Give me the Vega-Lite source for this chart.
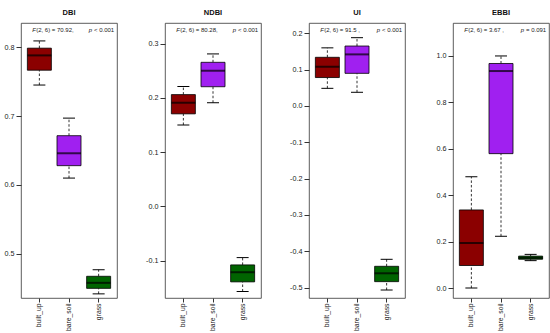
{
  "$schema": "https://vega.github.io/schema/vega-lite/v6.json",
  "background": "white",
  "padding": {"left": 3, "top": 8, "right": 2, "bottom": 1},
  "bounds": "flush",
  "spacing": 48,
  "datasets": {
    "vals": [
      {"index": "DBI", "cls": "built_up", "value": 0.745},
      {"index": "DBI", "cls": "built_up", "value": 0.788},
      {"index": "DBI", "cls": "built_up", "value": 0.809},
      {"index": "DBI", "cls": "bare_soil", "value": 0.610},
      {"index": "DBI", "cls": "bare_soil", "value": 0.646},
      {"index": "DBI", "cls": "bare_soil", "value": 0.697},
      {"index": "DBI", "cls": "grass", "value": 0.442},
      {"index": "DBI", "cls": "grass", "value": 0.458},
      {"index": "DBI", "cls": "grass", "value": 0.477},
      {"index": "NDBI", "cls": "built_up", "value": 0.150},
      {"index": "NDBI", "cls": "built_up", "value": 0.191},
      {"index": "NDBI", "cls": "built_up", "value": 0.221},
      {"index": "NDBI", "cls": "bare_soil", "value": 0.191},
      {"index": "NDBI", "cls": "bare_soil", "value": 0.250},
      {"index": "NDBI", "cls": "bare_soil", "value": 0.281},
      {"index": "NDBI", "cls": "grass", "value": -0.157},
      {"index": "NDBI", "cls": "grass", "value": -0.1215},
      {"index": "NDBI", "cls": "grass", "value": -0.0945},
      {"index": "UI", "cls": "built_up", "value": 0.0486},
      {"index": "UI", "cls": "built_up", "value": 0.108},
      {"index": "UI", "cls": "built_up", "value": 0.160},
      {"index": "UI", "cls": "bare_soil", "value": 0.0377},
      {"index": "UI", "cls": "bare_soil", "value": 0.142},
      {"index": "UI", "cls": "bare_soil", "value": 0.188},
      {"index": "UI", "cls": "grass", "value": -0.5065},
      {"index": "UI", "cls": "grass", "value": -0.4605},
      {"index": "UI", "cls": "grass", "value": -0.422},
      {"index": "EBBI", "cls": "built_up", "value": 0.0},
      {"index": "EBBI", "cls": "built_up", "value": 0.194},
      {"index": "EBBI", "cls": "built_up", "value": 0.479},
      {"index": "EBBI", "cls": "bare_soil", "value": 0.223},
      {"index": "EBBI", "cls": "bare_soil", "value": 0.935},
      {"index": "EBBI", "cls": "bare_soil", "value": 1.0},
      {"index": "EBBI", "cls": "grass", "value": 0.118},
      {"index": "EBBI", "cls": "grass", "value": 0.130},
      {"index": "EBBI", "cls": "grass", "value": 0.145}
    ],
    "notes": [
      {"index": "DBI", "fpart": "(2, 6) = 70.92,", "ppart": "< 0.001"},
      {"index": "NDBI", "fpart": "(2, 6) = 80.28,", "ppart": "< 0.001"},
      {"index": "UI", "fpart": "(2, 6) = 91.5 ,", "ppart": "< 0.001"},
      {"index": "EBBI", "fpart": "(2, 6) = 3.67 ,", "ppart": "= 0.091"}
    ]
  },
  "hconcat": [
    {
      "width": 96, "height": 275,
      "title": {"text": "DBI"},
      "layer": [
        {
          "data": {"name": "vals"},
          "transform": [{"filter": "datum.index === 'DBI'"}],
          "mark": {"type": "boxplot", "extent": "min-max", "size": 24,
            "box": {"stroke": "black", "strokeWidth": 0.8},
            "median": {"color": "black", "thickness": 2},
            "rule": {"color": "black", "strokeDash": [2.5, 2], "strokeWidth": 0.8},
            "ticks": {"color": "black", "size": 12}},
          "encoding": {
            "x": {"field": "cls", "type": "nominal", "title": null, "scale": {"domain": ["built_up", "bare_soil", "grass"], "paddingInner": 0, "paddingOuter": 0.12}},
            "y": {"field": "value", "type": "quantitative", "title": null, "scale": {"domain": [0.436, 0.835], "nice": false, "zero": false}, "axis": {"values": [0.5, 0.6, 0.7, 0.8], "tickCount": 30, "format": ".1f", "labelOverlap": false, "labelExpr": "replace(datum.label, '\u2212', '-')"}},
            "color": {"field": "cls", "type": "nominal", "scale": {"domain": ["built_up", "bare_soil", "grass"], "range": ["#8B0000", "#A020F0", "#006400"]}, "legend": null}
          }
        },
        {
          "data": {"name": "notes"},
          "transform": [{"filter": "datum.index === 'DBI'"}],
          "mark": {"type": "text", "align": "left", "baseline": "alphabetic", "fontStyle": "italic", "dx": -7, "dy": 9},
          "encoding": {"x": {"datum": "built_up"}, "y": {"datum": 0.835}, "text": {"value": "F"}}
        },
        {
          "data": {"name": "notes"},
          "transform": [{"filter": "datum.index === 'DBI'"}],
          "mark": {"type": "text", "align": "left", "baseline": "alphabetic", "dx": -3.2, "dy": 9},
          "encoding": {"x": {"datum": "built_up"}, "y": {"datum": 0.835}, "text": {"field": "fpart"}}
        },
        {
          "data": {"name": "notes"},
          "transform": [{"filter": "datum.index === 'DBI'"}],
          "mark": {"type": "text", "align": "left", "baseline": "alphabetic", "fontStyle": "italic", "dx": 49.4, "dy": 9},
          "encoding": {"x": {"datum": "built_up"}, "y": {"datum": 0.835}, "text": {"value": "p"}}
        },
        {
          "data": {"name": "notes"},
          "transform": [{"filter": "datum.index === 'DBI'"}],
          "mark": {"type": "text", "align": "left", "baseline": "alphabetic", "dx": 54.6, "dy": 9},
          "encoding": {"x": {"datum": "built_up"}, "y": {"datum": 0.835}, "text": {"field": "ppart"}}
        }
      ]
    },
    {
      "width": 96, "height": 275,
      "title": {"text": "NDBI"},
      "layer": [
        {
          "data": {"name": "vals"},
          "transform": [{"filter": "datum.index === 'NDBI'"}],
          "mark": {"type": "boxplot", "extent": "min-max", "size": 24,
            "box": {"stroke": "black", "strokeWidth": 0.8},
            "median": {"color": "black", "thickness": 2},
            "rule": {"color": "black", "strokeDash": [2.5, 2], "strokeWidth": 0.8},
            "ticks": {"color": "black", "size": 12}},
          "encoding": {
            "x": {"field": "cls", "type": "nominal", "title": null, "scale": {"domain": ["built_up", "bare_soil", "grass"], "paddingInner": 0, "paddingOuter": 0.12}},
            "y": {"field": "value", "type": "quantitative", "title": null, "scale": {"domain": [-0.169, 0.338], "nice": false, "zero": false}, "axis": {"values": [-0.1, 0, 0.1, 0.2, 0.3], "tickCount": 30, "format": ".1f", "labelOverlap": false, "labelExpr": "replace(datum.label, '\u2212', '-')"}},
            "color": {"field": "cls", "type": "nominal", "scale": {"domain": ["built_up", "bare_soil", "grass"], "range": ["#8B0000", "#A020F0", "#006400"]}, "legend": null}
          }
        },
        {
          "data": {"name": "notes"},
          "transform": [{"filter": "datum.index === 'NDBI'"}],
          "mark": {"type": "text", "align": "left", "baseline": "alphabetic", "fontStyle": "italic", "dx": -7, "dy": 9},
          "encoding": {"x": {"datum": "built_up"}, "y": {"datum": 0.338}, "text": {"value": "F"}}
        },
        {
          "data": {"name": "notes"},
          "transform": [{"filter": "datum.index === 'NDBI'"}],
          "mark": {"type": "text", "align": "left", "baseline": "alphabetic", "dx": -3.2, "dy": 9},
          "encoding": {"x": {"datum": "built_up"}, "y": {"datum": 0.338}, "text": {"field": "fpart"}}
        },
        {
          "data": {"name": "notes"},
          "transform": [{"filter": "datum.index === 'NDBI'"}],
          "mark": {"type": "text", "align": "left", "baseline": "alphabetic", "fontStyle": "italic", "dx": 49.4, "dy": 9},
          "encoding": {"x": {"datum": "built_up"}, "y": {"datum": 0.338}, "text": {"value": "p"}}
        },
        {
          "data": {"name": "notes"},
          "transform": [{"filter": "datum.index === 'NDBI'"}],
          "mark": {"type": "text", "align": "left", "baseline": "alphabetic", "dx": 54.6, "dy": 9},
          "encoding": {"x": {"datum": "built_up"}, "y": {"datum": 0.338}, "text": {"field": "ppart"}}
        }
      ]
    },
    {
      "width": 96, "height": 275,
      "title": {"text": "UI"},
      "layer": [
        {
          "data": {"name": "vals"},
          "transform": [{"filter": "datum.index === 'UI'"}],
          "mark": {"type": "boxplot", "extent": "min-max", "size": 24,
            "box": {"stroke": "black", "strokeWidth": 0.8},
            "median": {"color": "black", "thickness": 2},
            "rule": {"color": "black", "strokeDash": [2.5, 2], "strokeWidth": 0.8},
            "ticks": {"color": "black", "size": 12}},
          "encoding": {
            "x": {"field": "cls", "type": "nominal", "title": null, "scale": {"domain": ["built_up", "bare_soil", "grass"], "paddingInner": 0, "paddingOuter": 0.12}},
            "y": {"field": "value", "type": "quantitative", "title": null, "scale": {"domain": [-0.5285, 0.2284], "nice": false, "zero": false}, "axis": {"values": [-0.5, -0.4, -0.3, -0.2, -0.1, 0, 0.1, 0.2], "tickCount": 30, "format": ".1f", "labelOverlap": false, "labelExpr": "replace(datum.label, '\u2212', '-')"}},
            "color": {"field": "cls", "type": "nominal", "scale": {"domain": ["built_up", "bare_soil", "grass"], "range": ["#8B0000", "#A020F0", "#006400"]}, "legend": null}
          }
        },
        {
          "data": {"name": "notes"},
          "transform": [{"filter": "datum.index === 'UI'"}],
          "mark": {"type": "text", "align": "left", "baseline": "alphabetic", "fontStyle": "italic", "dx": -7, "dy": 9},
          "encoding": {"x": {"datum": "built_up"}, "y": {"datum": 0.2284}, "text": {"value": "F"}}
        },
        {
          "data": {"name": "notes"},
          "transform": [{"filter": "datum.index === 'UI'"}],
          "mark": {"type": "text", "align": "left", "baseline": "alphabetic", "dx": -3.2, "dy": 9},
          "encoding": {"x": {"datum": "built_up"}, "y": {"datum": 0.2284}, "text": {"field": "fpart"}}
        },
        {
          "data": {"name": "notes"},
          "transform": [{"filter": "datum.index === 'UI'"}],
          "mark": {"type": "text", "align": "left", "baseline": "alphabetic", "fontStyle": "italic", "dx": 49.4, "dy": 9},
          "encoding": {"x": {"datum": "built_up"}, "y": {"datum": 0.2284}, "text": {"value": "p"}}
        },
        {
          "data": {"name": "notes"},
          "transform": [{"filter": "datum.index === 'UI'"}],
          "mark": {"type": "text", "align": "left", "baseline": "alphabetic", "dx": 54.6, "dy": 9},
          "encoding": {"x": {"datum": "built_up"}, "y": {"datum": 0.2284}, "text": {"field": "ppart"}}
        }
      ]
    },
    {
      "width": 96, "height": 275,
      "title": {"text": "EBBI"},
      "layer": [
        {
          "data": {"name": "vals"},
          "transform": [{"filter": "datum.index === 'EBBI'"}],
          "mark": {"type": "boxplot", "extent": "min-max", "size": 24,
            "box": {"stroke": "black", "strokeWidth": 0.8},
            "median": {"color": "black", "thickness": 2},
            "rule": {"color": "black", "strokeDash": [2.5, 2], "strokeWidth": 0.8},
            "ticks": {"color": "black", "size": 12}},
          "encoding": {
            "x": {"field": "cls", "type": "nominal", "title": null, "scale": {"domain": ["built_up", "bare_soil", "grass"], "paddingInner": 0, "paddingOuter": 0.12}},
            "y": {"field": "value", "type": "quantitative", "title": null, "scale": {"domain": [-0.043, 1.142], "nice": false, "zero": false}, "axis": {"values": [0, 0.2, 0.4, 0.6, 0.8, 1.0], "tickCount": 30, "format": ".1f", "labelOverlap": false, "labelExpr": "replace(datum.label, '\u2212', '-')"}},
            "color": {"field": "cls", "type": "nominal", "scale": {"domain": ["built_up", "bare_soil", "grass"], "range": ["#8B0000", "#A020F0", "#006400"]}, "legend": null}
          }
        },
        {
          "data": {"name": "notes"},
          "transform": [{"filter": "datum.index === 'EBBI'"}],
          "mark": {"type": "text", "align": "left", "baseline": "alphabetic", "fontStyle": "italic", "dx": -7, "dy": 9},
          "encoding": {"x": {"datum": "built_up"}, "y": {"datum": 1.142}, "text": {"value": "F"}}
        },
        {
          "data": {"name": "notes"},
          "transform": [{"filter": "datum.index === 'EBBI'"}],
          "mark": {"type": "text", "align": "left", "baseline": "alphabetic", "dx": -3.2, "dy": 9},
          "encoding": {"x": {"datum": "built_up"}, "y": {"datum": 1.142}, "text": {"field": "fpart"}}
        },
        {
          "data": {"name": "notes"},
          "transform": [{"filter": "datum.index === 'EBBI'"}],
          "mark": {"type": "text", "align": "left", "baseline": "alphabetic", "fontStyle": "italic", "dx": 49.4, "dy": 9},
          "encoding": {"x": {"datum": "built_up"}, "y": {"datum": 1.142}, "text": {"value": "p"}}
        },
        {
          "data": {"name": "notes"},
          "transform": [{"filter": "datum.index === 'EBBI'"}],
          "mark": {"type": "text", "align": "left", "baseline": "alphabetic", "dx": 54.6, "dy": 9},
          "encoding": {"x": {"datum": "built_up"}, "y": {"datum": 1.142}, "text": {"field": "ppart"}}
        }
      ]
    }
  ],
  "config": {
    "font": "Liberation Sans",
    "view": {"stroke": "#333", "strokeWidth": 0.8},
    "axis": {"labelFont": "Liberation Sans", "labelFontSize": 7.2, "labelColor": "#222", "tickColor": "#333", "domain": false, "grid": false, "title": null},
    "axisX": {"labelAngle": -90, "tickSize": 4, "labelPadding": 1, "labelFontSize": 6.8},
    "axisY": {"tickSize": 5, "labelPadding": 2},
    "title": {"fontSize": 7.5, "fontWeight": "bold", "font": "Liberation Sans", "color": "#111", "offset": 7, "baseline": "alphabetic"},
    "text": {"font": "Liberation Sans", "fontSize": 6, "color": "#222"}
  }
}
